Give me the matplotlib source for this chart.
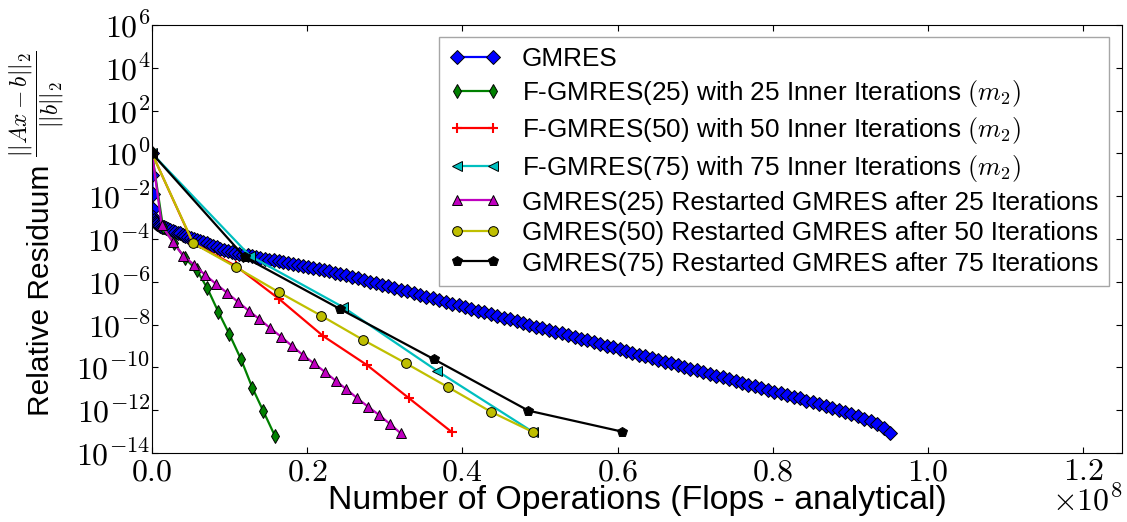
import numpy as np
import matplotlib
matplotlib.use('Agg')
import matplotlib.pyplot as plt
from matplotlib.ticker import FixedLocator, FuncFormatter, NullLocator

plt.rcParams['font.family'] = ['Liberation Sans', 'DejaVu Sans']
plt.rcParams['mathtext.fontset'] = 'cm'

# Operations in units of 1e8 flops, residuals as log10 exponents
gmres_x = [0.0, 0.0004, 0.0008, 0.0013, 0.0019, 0.0027, 0.0037, 0.0050, 0.0066, 0.0085, 0.0106, 0.0129,
           0.0154, 0.0180, 0.0207, 0.0236, 0.0266, 0.0297, 0.0329, 0.0362, 0.0396, 0.0431, 0.0467, 0.0504,
           0.0542, 0.0581, 0.0621, 0.0662, 0.0704, 0.0747, 0.0791, 0.0836, 0.0882, 0.0929, 0.0977,
           0.1026, 0.1076, 0.1127, 0.1179, 0.1232, 0.1286, 0.1341, 0.1397, 0.1454, 0.1512, 0.1571, 0.1631,
           0.1692, 0.1754, 0.1817, 0.1881, 0.1946, 0.2012, 0.2079, 0.2147, 0.2216, 0.2286, 0.2357, 0.2429,
           0.2502, 0.2576, 0.2651, 0.2727, 0.2804, 0.2882, 0.2961, 0.3041, 0.3122,
           0.3204, 0.3287, 0.3370, 0.3453, 0.3536, 0.3619, 0.3702, 0.3785, 0.3868, 0.3951, 0.4034, 0.4117,
           0.4200, 0.4283, 0.4366, 0.4449, 0.4532, 0.4615, 0.4698, 0.4781, 0.4864, 0.4947, 0.5030, 0.5113,
           0.5196, 0.5279, 0.5362, 0.5445, 0.5528, 0.5611, 0.5694, 0.5777, 0.5860, 0.5943, 0.6026, 0.6109,
           0.6192, 0.6275, 0.6358, 0.6441, 0.6524, 0.6607, 0.6690, 0.6773, 0.6856, 0.6939, 0.7022, 0.7105,
           0.7188, 0.7271, 0.7354, 0.7437, 0.7520, 0.7603, 0.7686, 0.7769, 0.7852, 0.7935, 0.8018, 0.8101,
           0.8184, 0.8267, 0.8350, 0.8433, 0.8516, 0.8599, 0.8682, 0.8765, 0.8848, 0.8931, 0.9014, 0.9097,
           0.9180, 0.9263, 0.9346, 0.9429, 0.9512]
gmres_log = [0.0, -1.0, -1.9, -2.6, -2.95, -3.1, -3.19, -3.25, -3.30, -3.35, -3.39, -3.43,
             -3.46, -3.49, -3.53, -3.57, -3.61, -3.65, -3.70, -3.74, -3.79, -3.84, -3.89, -3.94,
             -3.99, -4.04, -4.10, -4.16, -4.21, -4.27, -4.33, -4.39, -4.45, -4.51, -4.57,
             -4.62, -4.66, -4.70, -4.73, -4.77, -4.81, -4.84, -4.88, -4.92, -4.96, -5.00, -5.04,
             -5.08, -5.13, -5.17, -5.22, -5.27, -5.31, -5.36, -5.41, -5.46, -5.51, -5.57, -5.63,
             -5.70, -5.77, -5.84, -5.91, -5.99, -6.06, -6.14, -6.21, -6.28,
             -6.36, -6.44, -6.52, -6.61, -6.69, -6.77, -6.85, -6.94, -7.02, -7.10, -7.18, -7.26,
             -7.35, -7.43, -7.51, -7.59, -7.68, -7.76, -7.84, -7.92, -8.00, -8.09, -8.17, -8.25,
             -8.33, -8.41, -8.50, -8.58, -8.66, -8.74, -8.83, -8.91, -8.99, -9.07, -9.15, -9.24,
             -9.32, -9.40, -9.48, -9.57, -9.65, -9.73, -9.81, -9.89, -9.98, -10.06, -10.14, -10.22,
             -10.30, -10.39, -10.47, -10.55, -10.63, -10.72, -10.80, -10.88, -10.96, -11.04, -11.13, -11.21,
             -11.29, -11.37, -11.45, -11.55, -11.64, -11.73, -11.82, -11.91, -12.00, -12.09, -12.19, -12.29,
             -12.40, -12.52, -12.65, -12.82, -13.05]

fgmres25_x = [0.0, 0.0142, 0.0284, 0.0425, 0.0576, 0.0713, 0.0854, 0.0996, 0.1147, 0.1293, 0.1434, 0.1585]
fgmres25_log = [0.0, -3.45, -4.20, -4.90, -5.45, -6.30, -7.40, -8.44, -9.62, -10.95, -12.04, -13.21]

fgmres50_x = [0.0, 0.0528, 0.1080, 0.1637, 0.2204, 0.2770, 0.3312, 0.3866]
fgmres50_log = [0.0, -4.19, -5.26, -6.80, -8.53, -9.89, -11.44, -13.03]

fgmres75_x = [0.0, 0.1263, 0.2465, 0.3669, 0.4910]
fgmres75_log = [0.0, -4.79, -7.19, -10.15, -13.02]

gmres25_x = [0.0, 0.0125, 0.0265, 0.0405, 0.0545, 0.0685, 0.0825, 0.0965, 0.1105, 0.1245, 0.1385, 0.1525,
             0.1665, 0.1805, 0.1945, 0.2085, 0.2225, 0.2365, 0.2505, 0.2645, 0.2785, 0.2925, 0.3065, 0.3205]
gmres25_log = [0.0, -3.35, -4.13, -4.79, -5.21, -5.68, -6.10, -6.51, -6.93, -7.35, -7.75, -8.17,
               -8.57, -9.00, -9.42, -9.81, -10.20, -10.62, -11.02, -11.44, -11.84, -12.22, -12.64, -13.08]

gmres50_x = [0.0, 0.0532, 0.1082, 0.1637, 0.2178, 0.2723, 0.3273, 0.3818, 0.4365, 0.4914]
gmres50_log = [0.0, -4.20, -5.32, -6.49, -7.58, -8.72, -9.81, -10.93, -12.07, -13.03]

gmres75_x = [0.0, 0.1198, 0.2423, 0.3634, 0.4850, 0.6056]
gmres75_log = [0.0, -4.86, -7.27, -9.62, -12.02, -13.00]

series = [
    (gmres_x, gmres_log, 'b', 'D', 'GMRES'),
    (fgmres25_x, fgmres25_log, 'g', 'd', r'F-GMRES(25) with 25 Inner Iterations $(m_2)$'),
    (fgmres50_x, fgmres50_log, 'r', '+', r'F-GMRES(50) with 50 Inner Iterations $(m_2)$'),
    (fgmres75_x, fgmres75_log, 'c', '<', r'F-GMRES(75) with 75 Inner Iterations $(m_2)$'),
    (gmres25_x, gmres25_log, 'm', '^', 'GMRES(25) Restarted GMRES after 25 Iterations'),
    (gmres50_x, gmres50_log, 'y', 'o', 'GMRES(50) Restarted GMRES after 50 Iterations'),
    (gmres75_x, gmres75_log, 'k', 'p', 'GMRES(75) Restarted GMRES after 75 Iterations'),
]

fig = plt.figure(figsize=(11.27, 5.22), dpi=100)
ax = fig.add_axes([152 / 1127, 1 - 453 / 522, 970 / 1127, 428 / 522])

for xs, logs, col, mk, lab in series:
    mew = 1.5 if mk == '+' else 0.7
    mec = col if mk == '+' else 'k'
    ax.plot(xs, 10.0 ** np.array(logs), color=col, marker=mk, markersize=7,
            markeredgecolor=mec, markeredgewidth=mew, linewidth=1.6, label=lab)

ax.set_yscale('log')
ax.set_xlim(0, 1.25)
ax.set_ylim(1e-14, 1e6)

ax.yaxis.set_major_locator(FixedLocator([10.0 ** e for e in range(-14, 7, 2)]))
ax.yaxis.set_minor_locator(NullLocator())
ax.yaxis.set_major_formatter(FuncFormatter(lambda v, p: r'$10^{%d}$' % int(round(np.log10(v)))))
ax.xaxis.set_major_locator(FixedLocator([0.0, 0.2, 0.4, 0.6, 0.8, 1.0, 1.2]))
ax.xaxis.set_major_formatter(FuncFormatter(lambda v, p: r'$%.1f$' % v))

ax.tick_params(direction='in', top=True, right=True, length=4, width=0.8, labelsize=23)
ax.tick_params(axis='y', pad=1)
ax.tick_params(axis='x', pad=3)

ax.text(1.0, -0.077, r'$\times10^{8}$', transform=ax.transAxes, ha='right', va='top', fontsize=23)

ax.set_xlabel('Number of Operations (Flops - analytical)', fontsize=24.4)
ax.xaxis.set_label_coords(0.5, -0.075)

# y label: words plus the residual fraction drawn a bit larger above them
ax.set_ylabel('Relative Residuum', fontsize=21.5)
ax.yaxis.set_label_coords(-0.100, 0.381)
ax.text(-0.1186, 0.817, r'$\dfrac{||Ax-b||_2}{||b||_2}$', transform=ax.transAxes,
        rotation=90, ha='center', va='center', fontsize=17)

leg = ax.legend(loc='upper right', bbox_to_anchor=((1109 - 152) / 970, (453 - 37) / 428),
                borderaxespad=0, numpoints=2, fontsize=18.8, labelspacing=0.25,
                fancybox=False, framealpha=1)
leg.get_frame().set_edgecolor('0.65')
leg.get_frame().set_linewidth(1.0)

fig.savefig('out.png', dpi=100)
